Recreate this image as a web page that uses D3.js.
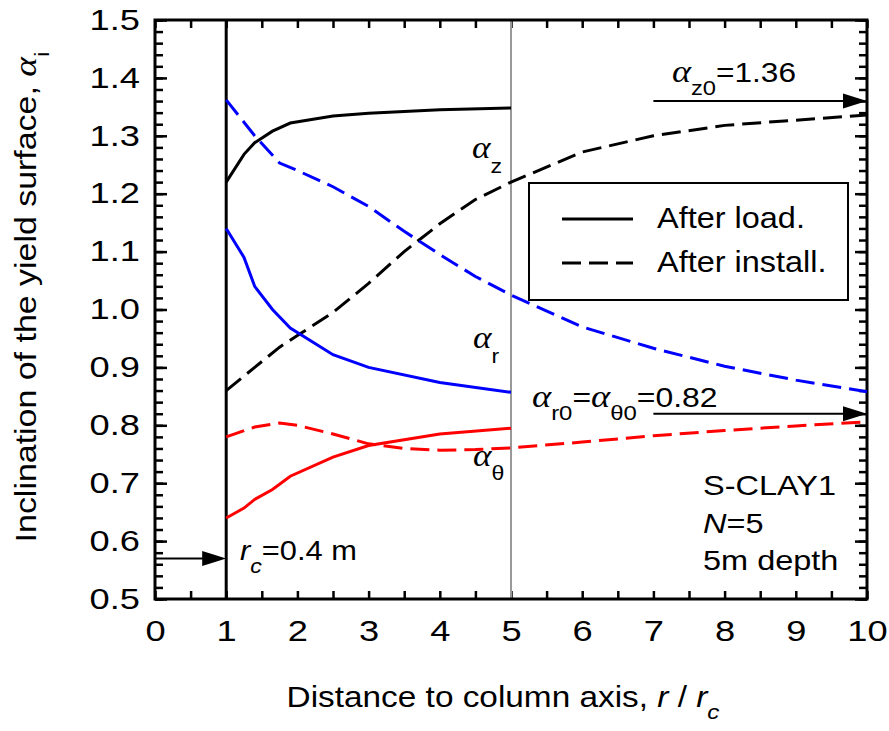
<!DOCTYPE html>
<html>
<head>
<meta charset="utf-8">
<script src="https://cdn.jsdelivr.net/npm/d3@7"></script>
<style>
body{margin:0;background:#fff}
</style>
</head>
<body>
<div id="chart"></div>
<script>
// r / rc stations
const loadX = [1, 1.25, 1.4, 1.65, 1.9, 2.5, 3, 4, 5]
const installX = [1, 1.4, 1.75, 2, 2.5, 3, 3.5, 4, 4.5, 5, 6, 7, 8, 9, 10]

// after loading (solid)
const alphaZLoad = [1.22, 1.268, 1.288, 1.308, 1.322, 1.334, 1.339, 1.345, 1.348]
const alphaRLoad = [1.14, 1.09, 1.04, 1.0, 0.968, 0.922, 0.90, 0.874, 0.857]
const alphaThLoad = [0.64, 0.657, 0.672, 0.689, 0.712, 0.745, 0.765, 0.785, 0.795]

// after installation (dashed)
const alphaZInst = [0.86, 0.90, 0.935, 0.955, 0.995, 1.045, 1.10, 1.148, 1.19, 1.22, 1.272, 1.30, 1.318, 1.327, 1.336]
const alphaRInst = [1.362, 1.30, 1.253, 1.24, 1.212, 1.178, 1.135, 1.095, 1.057, 1.025, 0.97, 0.933, 0.902, 0.878, 0.858]
const alphaThInst = [0.78, 0.797, 0.804, 0.80, 0.785, 0.768, 0.76, 0.757, 0.758, 0.761, 0.771, 0.782, 0.791, 0.799, 0.806]

const xMinor = d3.range(0, 10.01, 0.5)
const yMajor = d3.range(0.5, 1.501, 0.1)
const yMinor = d3.range(0.5, 1.501, 0.02)

const alphaZ0 = 1.36
const alphaR0 = 0.82
const rcMark = 0.57

const W = 889, H = 731
const sans = "'Liberation Sans', Arial, sans-serif"
const serif = "'Liberation Serif', 'Times New Roman', serif"

const x = d3.scaleLinear().domain([0, 10]).range([155, 867])
const y = d3.scaleLinear().domain([0.5, 1.5]).range([599, 20])

const svg = d3.select('#chart').append('svg')
    .attr('width', W).attr('height', H)
    .attr('font-family', sans)

// ---- axes (ticks inward)
function styleAxis(g){
    g.select('.domain').remove()
    g.selectAll('line').attr('stroke', '#000').attr('stroke-width', 2.5)
}
const tickSx = 1.25

svg.append('g').attr('transform', `translate(0,${y(0.5)})`)
    .call(d3.axisBottom(x).tickValues(xMinor).tickSize(-8).tickPadding(21)
        .tickFormat(d => Number.isInteger(d) ? d : ''))
    .call(styleAxis)
    .call(g => g.selectAll('text').attr('font-size', 29).attr('font-family', sans)
        .attr('fill', '#000').attr('transform', `scale(${tickSx},1)`))

svg.append('g').attr('transform', `translate(0,${y(1.5)})`)
    .call(d3.axisTop(x).tickValues(xMinor).tickSize(-8).tickFormat(''))
    .call(styleAxis)

svg.append('g').attr('transform', `translate(${x(0)},0)`)
    .call(d3.axisLeft(y).tickValues(yMinor).tickSize(-8).tickFormat(''))
    .call(styleAxis)
svg.append('g').attr('transform', `translate(${x(0)},0)`)
    .call(d3.axisLeft(y).tickValues(yMajor).tickSize(-12).tickPadding(15).tickFormat(d3.format('.1f')))
    .call(styleAxis)
    .call(g => g.selectAll('text').attr('font-size', 29).attr('font-family', sans)
        .attr('fill', '#000').attr('x', -15 / tickSx).attr('transform', `scale(${tickSx},1)`))

svg.append('g').attr('transform', `translate(${x(10)},0)`)
    .call(d3.axisRight(y).tickValues(yMinor).tickSize(-8).tickFormat(''))
    .call(styleAxis)
svg.append('g').attr('transform', `translate(${x(10)},0)`)
    .call(d3.axisRight(y).tickValues(yMajor).tickSize(-12).tickFormat(''))
    .call(styleAxis)

// reference verticals at r/rc = 1 and 5
svg.append('line').attr('x1', x(5)).attr('x2', x(5)).attr('y1', y(1.5)).attr('y2', y(0.5))
    .attr('stroke', '#999').attr('stroke-width', 2)
svg.append('line').attr('x1', x(1)).attr('x2', x(1)).attr('y1', y(1.5)).attr('y2', y(0.5))
    .attr('stroke', '#000').attr('stroke-width', 3)

// frame
svg.append('rect').attr('x', x(0)).attr('y', y(1.5))
    .attr('width', x(10) - x(0)).attr('height', y(0.5) - y(1.5))
    .attr('fill', 'none').attr('stroke', '#000').attr('stroke-width', 3)

// ---- curves
const line = d3.line().x(d => x(d[0])).y(d => y(d[1]))
const series = [
    {xs: installX, ys: alphaZInst, color: '#000', dash: '19,8'},
    {xs: installX, ys: alphaRInst, color: '#0000ff', dash: '19,8'},
    {xs: installX, ys: alphaThInst, color: '#ff0000', dash: '19,8'},
    {xs: loadX, ys: alphaZLoad, color: '#000', dash: null},
    {xs: loadX, ys: alphaRLoad, color: '#0000ff', dash: null},
    {xs: loadX, ys: alphaThLoad, color: '#ff0000', dash: null}
]
svg.selectAll('.curve').data(series).enter().append('path')
    .attr('class', 'curve')
    .attr('d', d => line(d.xs.map((v, i) => [v, d.ys[i]])))
    .attr('fill', 'none')
    .attr('stroke', d => d.color)
    .attr('stroke-width', 3)
    .attr('stroke-dasharray', d => d.dash)

// ---- arrows
function arrow(x0, x1, v){
    const yy = y(v), tip = x(x1)
    svg.append('line').attr('x1', x(x0)).attr('x2', tip - 20).attr('y1', yy).attr('y2', yy)
        .attr('stroke', '#000').attr('stroke-width', 2)
    svg.append('path').attr('d', `M${tip},${yy}L${tip - 24},${yy - 7.5}L${tip - 24},${yy + 7.5}Z`)
        .attr('fill', '#000')
}
arrow(7, 10, alphaZ0)
arrow(7, 10, alphaR0)
arrow(0, 1, rcMark)

// ---- rich text helper
function rich(x0, y0, parts, size, sx, anchor){
    const t = svg.append('text')
        .attr('transform', `translate(${x0},${y0}) scale(${sx},1)`)
        .attr('font-size', size)
        .attr('text-anchor', anchor || 'start')
        .attr('fill', '#000')
    parts.forEach(p => {
        const s = t.append('tspan').text(p.t)
        if (p.dy) s.attr('dy', p.dy)
        if (p.f) s.attr('font-family', p.f)
        if (p.i) s.attr('font-style', 'italic')
        if (p.s) s.attr('font-size', p.s)
    })
    return t
}
const A = {t: 'α', f: serif, i: 1, s: 32}

rich(472, 158, [A, {t: 'z', s: 21, dy: 15}], 28, 1.1)
rich(473, 348, [A, {t: 'r', s: 21, dy: 15}], 28, 1.1)
rich(473, 466, [A, {t: 'θ', s: 21, dy: 14}], 28, 1.1)

rich(672, 82, [A, {t: 'z0', s: 21, dy: 13}, {t: '=1.36', dy: -13}], 28, 1.13)
rich(532, 407, [A, {t: 'r0', s: 21, dy: 13}, {t: '=', dy: -13}, A,
    {t: 'θ0', s: 21, dy: 13}, {t: '=0.82', dy: -13}], 28, 1.14)
rich(240, 560, [{t: 'r', i: 1}, {t: 'c', i: 1, s: 21, dy: 13}, {t: '=0.4 m', dy: -13}], 28, 1.1)

rich(703, 495, [{t: 'S-CLAY1'}], 28, 1.16)
rich(703, 533, [{t: 'N', i: 1}, {t: '=5'}], 28, 1.16)
rich(703, 570, [{t: '5m depth'}], 28, 1.16)

// ---- legend
svg.append('rect').attr('x', 529).attr('y', 183).attr('width', 319).attr('height', 117)
    .attr('fill', '#fff').attr('stroke', '#000').attr('stroke-width', 2)
const legendItems = [
    {label: 'After load.', dash: null},
    {label: 'After install.', dash: '19,8'}
]
legendItems.forEach((d, i) => {
    const ly = 219 + i * 44
    svg.append('line').attr('x1', 562).attr('x2', 633).attr('y1', ly).attr('y2', ly)
        .attr('stroke', '#000').attr('stroke-width', 3).attr('stroke-dasharray', d.dash)
    rich(657, ly + 9, [{t: d.label}], 29, 1.12)
})

// ---- axis titles
rich(503, 707, [{t: 'Distance to column axis, '}, {t: 'r', i: 1}, {t: ' / '}, {t: 'r', i: 1},
    {t: 'c', i: 1, s: 21, dy: 12}], 29, 1.15, 'middle')

svg.append('text')
    .attr('transform', `translate(36,297) rotate(-90) scale(1.17,1)`)
    .attr('font-size', 29).attr('text-anchor', 'middle').attr('fill', '#000')
    .call(t => {
        t.append('tspan').text('Inclination of the yield surface, ')
        t.append('tspan').text('α').attr('font-family', serif).attr('font-style', 'italic').attr('font-size', 32)
        t.append('tspan').text('i').attr('font-size', 21).attr('dy', 13)
    })
</script>
</body>
</html>
